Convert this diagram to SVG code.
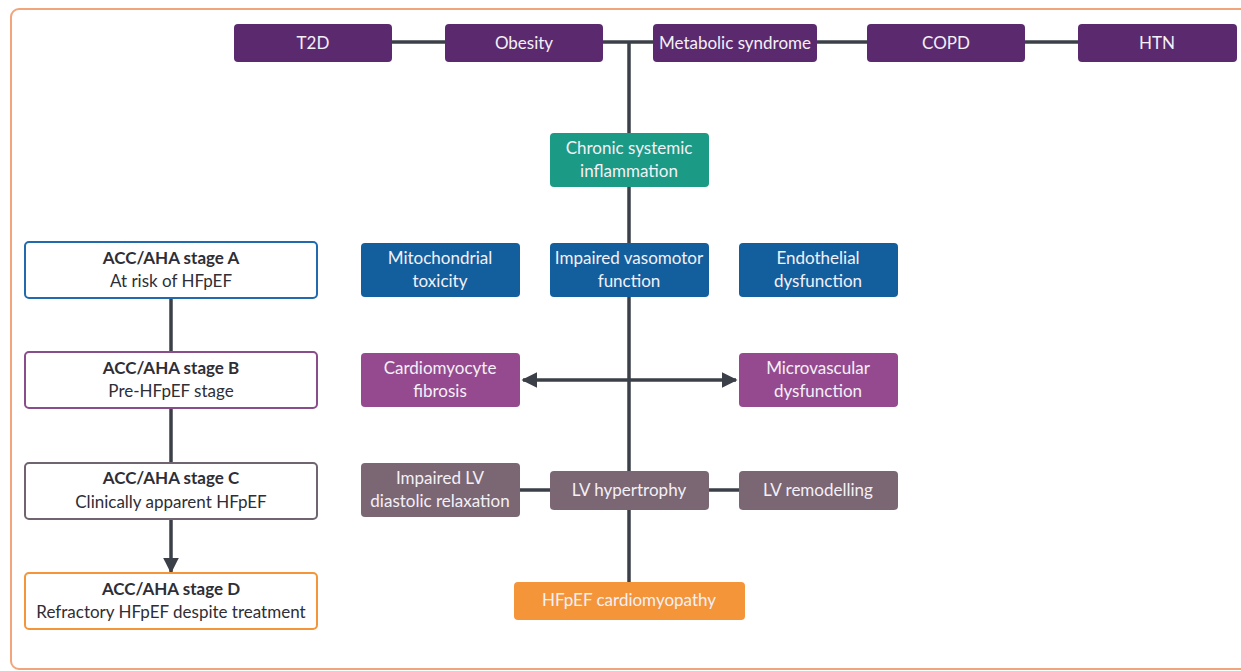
<svg xmlns="http://www.w3.org/2000/svg" width="1241" height="671" viewBox="0 0 1241 671">
<defs>
<style>
.t{font-family:Lato,"Open Sans","Liberation Sans",sans-serif;font-size:17px;fill:#f3f0f7;text-anchor:middle;dominant-baseline:central}
.s{font-family:Lato,"Open Sans","Liberation Sans",sans-serif;font-size:17px;fill:#2e2e36;text-anchor:middle;dominant-baseline:central}
.b{font-weight:bold}
.ln{stroke:#3b3f48;stroke-width:3.5;fill:none}
.purple{fill:#5b2a6e}
.teal{fill:#1b9a85}
.blue{fill:#135f9d}
.mag{fill:#954a8f}
.mauve{fill:#7b6673}
.orange{fill:#f5953a}
.stage{fill:#fff;stroke-width:2}
</style>
<marker id="ah" viewBox="0 0 10 10" refX="9" refY="5" markerWidth="4.5" markerHeight="4.5" orient="auto-start-reverse" markerUnits="strokeWidth">
<path d="M0,0 L10,5 L0,10 z" fill="#3b3f48"/>
</marker>
</defs>
<rect x="0" y="0" width="1241" height="671" fill="#fff"/>
<rect x="11" y="9" width="1250" height="660" rx="8" fill="none" stroke="#f2a57a" stroke-width="2"/>

<g id="connectors">
<line class="ln" x1="392" y1="42" x2="445" y2="42"/>
<line class="ln" x1="603" y1="42" x2="653" y2="42"/>
<line class="ln" x1="817" y1="42" x2="867" y2="42"/>
<line class="ln" x1="1025" y1="42" x2="1078" y2="42"/>
<line class="ln" x1="629" y1="42" x2="629" y2="582"/>
<line class="ln" x1="523" y1="380" x2="736" y2="380" marker-start="url(#ah)" marker-end="url(#ah)"/>
<line class="ln" x1="520" y1="490" x2="550" y2="490"/>
<line class="ln" x1="709" y1="490" x2="739" y2="490"/>
<line class="ln" x1="171" y1="298" x2="171" y2="352"/>
<line class="ln" x1="171" y1="408" x2="171" y2="463"/>
<line class="ln" x1="171" y1="519" x2="171" y2="572" marker-end="url(#ah)"/>
</g>

<g id="t2d"><rect class="purple" x="234" y="24" width="158" height="38" rx="4"/><text class="t" x="313" y="42">T2D</text></g>
<g id="obesity"><rect class="purple" x="445" y="24" width="158" height="38" rx="4"/><text class="t" x="524" y="42">Obesity</text></g>
<g id="metabolic"><rect class="purple" x="653" y="24" width="164" height="38" rx="4"/><text class="t" x="735" y="42">Metabolic syndrome</text></g>
<g id="copd"><rect class="purple" x="867" y="24" width="158" height="38" rx="4"/><text class="t" x="946" y="42">COPD</text></g>
<g id="htn"><rect class="purple" x="1078" y="24" width="159" height="38" rx="4"/><text class="t" x="1157" y="42">HTN</text></g>

<g id="inflammation"><rect class="teal" x="550" y="133" width="159" height="54" rx="4"/><text class="t" x="629" y="147">Chronic systemic</text><text class="t" x="629" y="170">inflammation</text></g>

<g id="mito"><rect class="blue" x="361" y="243" width="159" height="54" rx="4"/><text class="t" x="440" y="257">Mitochondrial</text><text class="t" x="440" y="280">toxicity</text></g>
<g id="vasomotor"><rect class="blue" x="550" y="243" width="159" height="54" rx="4"/><text class="t" x="629" y="257">Impaired vasomotor</text><text class="t" x="629" y="280">function</text></g>
<g id="endothelial"><rect class="blue" x="739" y="243" width="159" height="54" rx="4"/><text class="t" x="818" y="257">Endothelial</text><text class="t" x="818" y="280">dysfunction</text></g>

<g id="fibrosis"><rect class="mag" x="361" y="353" width="159" height="54" rx="4"/><text class="t" x="440" y="367">Cardiomyocyte</text><text class="t" x="440" y="390">fibrosis</text></g>
<g id="microvascular"><rect class="mag" x="739" y="353" width="159" height="54" rx="4"/><text class="t" x="818" y="367">Microvascular</text><text class="t" x="818" y="390">dysfunction</text></g>

<g id="diastolic"><rect class="mauve" x="361" y="463" width="159" height="54" rx="4"/><text class="t" x="440" y="477">Impaired LV</text><text class="t" x="440" y="500">diastolic relaxation</text></g>
<g id="hypertrophy"><rect class="mauve" x="550" y="471" width="159" height="39" rx="4"/><text class="t" x="629" y="489">LV hypertrophy</text></g>
<g id="remodelling"><rect class="mauve" x="739" y="471" width="159" height="39" rx="4"/><text class="t" x="818" y="489">LV remodelling</text></g>

<g id="hfpef"><rect class="orange" x="514" y="582" width="231" height="38" rx="4"/><text class="t" x="629" y="599">HFpEF cardiomyopathy</text></g>

<g id="stageA"><rect class="stage" x="25" y="242" width="292" height="56" rx="4" stroke="#1f6bae"/><text class="s b" x="171" y="257">ACC/AHA stage A</text><text class="s" x="171" y="280">At risk of HFpEF</text></g>
<g id="stageB"><rect class="stage" x="25" y="352" width="292" height="56" rx="4" stroke="#8a4d8c"/><text class="s b" x="171" y="367">ACC/AHA stage B</text><text class="s" x="171" y="390">Pre-HFpEF stage</text></g>
<g id="stageC"><rect class="stage" x="25" y="463" width="292" height="56" rx="4" stroke="#6f6470"/><text class="s b" x="171" y="477">ACC/AHA stage C</text><text class="s" x="171" y="501">Clinically apparent HFpEF</text></g>
<g id="stageD"><rect class="stage" x="25" y="573" width="292" height="56" rx="4" stroke="#f5953a"/><text class="s b" x="171" y="588">ACC/AHA stage D</text><text class="s" x="171" y="611">Refractory HFpEF despite treatment</text></g>
</svg>
